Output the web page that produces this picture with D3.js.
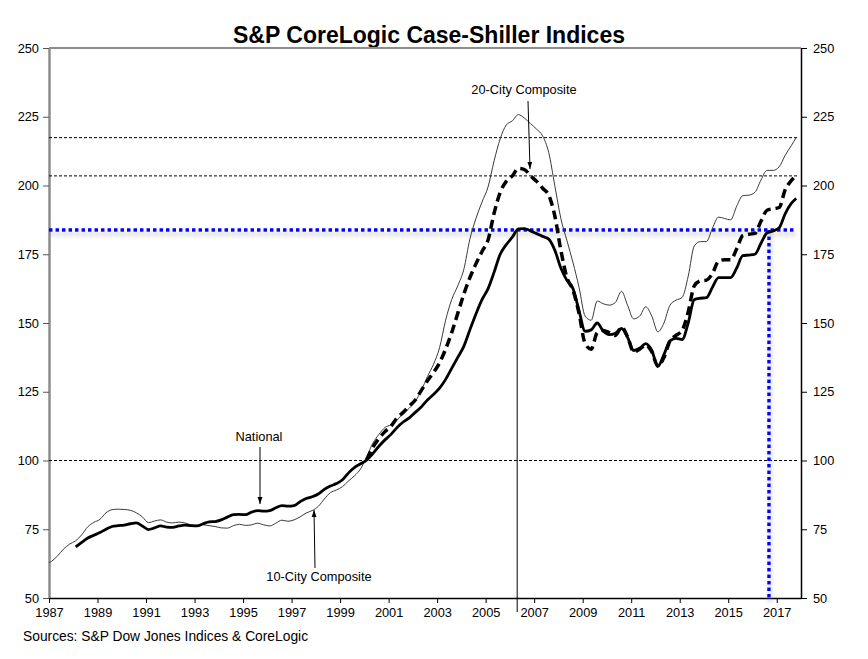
<!DOCTYPE html>
<html>
<head>
<meta charset="utf-8">
<script src="https://cdn.jsdelivr.net/npm/d3@7"></script>
<style>
  body { margin: 0; background: #fff; }
  text { font-family: "Liberation Sans", Arial, sans-serif; }
</style>
</head>
<body>
<div id="chart"></div>
<script>
// quarterly readings (x.1, x.35, x.6, x.85) plus first and last months
var dates = [1987].concat(d3.range(0, 123).map(function (i) { return +(1987.1 + i * 0.25).toFixed(2); })).concat([2017.8]);

var tenCity = [62.8,
    63.3, 65.3, 67.8, 69.6,      // 1987
    70.8, 73.0, 75.9, 77.5,      // 1988
    78.6, 81.0, 82.1, 82.3,      // 1989
    82.2, 81.9, 81.0, 79.5,      // 1990
    77.4, 78.0, 78.4, 77.6,      // 1991
    77.3, 77.6, 77.3, 76.6,      // 1992
    76.4, 76.6, 76.3, 76.0,      // 1993
    75.5, 75.4, 76.3, 76.8,      // 1994
    76.4, 76.6, 77.2, 76.6,      // 1995
    76.2, 77.2, 78.3, 77.9,      // 1996
    78.4, 79.5, 80.9, 81.8,      // 1997
    83.3, 86.0, 88.3, 89.3,      // 1998
    90.5, 92.6, 94.5, 97.0,      // 1999
    101.5, 106.3, 109.5, 112.0,  // 2000
    113.0, 114.8, 117.0, 119.0,  // 2001
    121.5, 125.5, 130.5, 135.0,  // 2002
    141.0, 151.0, 158.5, 163.5,  // 2003
    169.5, 180.5, 188.0, 194.0,  // 2004
    199.5, 209.0, 217.0, 222.0,  // 2005
    223.5, 225.8, 224.5, 222.5,  // 2006
    220.5, 218.0, 212.0, 200.0,  // 2007
    188.0, 180.0, 172.0, 163.0,  // 2008
    152.5, 151.0, 158.0, 157.0,  // 2009
    156.5, 157.5, 161.5, 156.5,  // 2010
    151.5, 152.5, 155.9, 152.5,  // 2011
    146.8, 150.0, 156.5, 158.3,  // 2012
    159.3, 167.0, 178.0, 179.6,  // 2013
    179.6, 184.5, 188.5, 188.0,  // 2014
    187.5, 192.5, 196.3, 196.5,  // 2015
    197.5, 202.0, 205.5, 205.5,  // 2016
    206.8, 211.0, 214.5, 217.4]; // 2017

var twentyCity = Array(53).fill(null).concat([
    100.3, 104.8, 108.0, 110.5,  // 2000
    112.5, 115.5, 117.5, 119.8,  // 2001
    122.0, 125.5, 129.0, 132.0,  // 2002
    135.5, 140.5, 146.5, 153.5,  // 2003
    160.5, 166.5, 171.5, 176.0,  // 2004
    180.2, 190.0, 197.5, 201.5,  // 2005
    203.5, 206.2, 205.8, 203.5,  // 2006
    201.5, 199.0, 196.5, 189.0,  // 2007
    176.5, 166.5, 162.0, 153.5,  // 2008
    142.5, 140.5, 146.5, 147.3,  // 2009
    146.5, 145.5, 148.5, 145.0,  // 2010
    139.5, 140.5, 142.0, 139.5,  // 2011
    134.3, 137.5, 143.5, 145.5,  // 2012
    147.3, 154.0, 163.5, 165.3,  // 2013
    165.6, 168.0, 172.5, 173.0,  // 2014
    173.0, 177.0, 181.8, 182.3,  // 2015
    182.6, 187.0, 191.0, 191.5,  // 2016
    192.0, 198.5, 201.8, 203.5]); // 2017

var national = Array(5).fill(null).concat([
    68.6, 70.2, 71.8, 72.8,      // 1988
    73.8, 75.0, 76.0, 76.3,      // 1989
    76.5, 77.0, 77.3, 76.2,      // 1990
    74.9, 75.5, 76.2, 75.8,      // 1991
    75.7, 76.2, 76.5, 76.3,      // 1992
    76.2, 77.0, 77.7, 77.8,      // 1993
    78.4, 79.4, 80.3, 80.4,      // 1994
    80.3, 81.2, 81.8, 81.6,      // 1995
    81.8, 82.8, 83.6, 83.4,      // 1996
    83.6, 85.0, 86.2, 86.8,      // 1997
    87.8, 89.5, 90.7, 91.6,      // 1998
    93.0, 95.5, 97.5, 98.8,      // 1999
    100.2, 102.5, 105.2, 107.5,  // 2000
    109.5, 112.0, 114.0, 115.5,  // 2001
    117.5, 119.5, 122.0, 124.0,  // 2002
    126.3, 129.5, 133.5, 137.5,  // 2003
    141.5, 147.5, 153.3, 158.5,  // 2004
    162.5, 168.5, 175.0, 178.5,  // 2005
    181.2, 184.2, 184.3, 183.5,  // 2006
    182.5, 181.5, 180.5, 176.5,  // 2007
    170.0, 165.5, 162.5, 154.5,  // 2008
    147.0, 147.5, 150.0, 147.0,  // 2009
    145.8, 146.3, 148.0, 144.8,  // 2010
    140.0, 140.8, 142.5, 140.0,  // 2011
    134.2, 138.5, 143.5, 144.4,  // 2012
    144.0, 150.0, 158.5, 159.0,  // 2013
    159.2, 163.0, 166.5, 166.5,  // 2014
    166.5, 170.0, 174.5, 174.7,  // 2015
    175.0, 179.0, 182.8, 183.5,  // 2016
    184.6, 189.8, 193.5, 195.3]); // 2017

var yearTicks = d3.range(1987, 2018, 2);
var valueTicks = [50, 75, 100, 125, 150, 175, 200, 225, 250];
var refLevels = [tenCity[tenCity.length - 1], twentyCity[twentyCity.length - 1], 100];
var peakLevel = 183.8;
var peakYear = 2006.3;
var recoveryYear = 2016.68;

(function () {
    var width = 868, height = 659;
    var plotLeft = 49, plotRight = 801, plotTop = 48, plotBottom = 598;

    var svg = d3.select("#chart").append("svg")
        .attr("width", width)
        .attr("height", height);

    var defs = svg.append("defs");
    var shadow = defs.append("filter").attr("id", "shadow")
        .attr("x", "-5%").attr("y", "-5%").attr("width", "110%").attr("height", "110%");
    shadow.append("feDropShadow")
        .attr("dx", 1).attr("dy", 4).attr("stdDeviation", 2)
        .attr("flood-color", "#888").attr("flood-opacity", 0.55);

    defs.append("marker").attr("id", "arrow")
        .attr("viewBox", "0 0 10 10").attr("refX", 10).attr("refY", 5)
        .attr("markerWidth", 7).attr("markerHeight", 7).attr("orient", "auto")
        .attr("markerUnits", "userSpaceOnUse")
        .append("path").attr("d", "M0,1.5 L10,5 L0,8.5 Z").attr("fill", "#000");

    var x = d3.scaleLinear().domain([1987, 2018]).range([plotLeft, plotRight]);
    var y = d3.scaleLinear().domain([50, 250]).range([plotBottom, plotTop]);

    // title
    svg.append("text")
        .attr("x", 429).attr("y", 43)
        .attr("text-anchor", "middle")
        .attr("font-size", 23).attr("font-weight", "bold")
        .text("S&P CoreLogic Case-Shiller Indices");

    // grey top edge of the plot area
    svg.append("line").attr("x1", plotLeft).attr("x2", plotRight).attr("y1", plotTop).attr("y2", plotTop)
        .attr("stroke", "#8c8c8c").attr("stroke-width", 2);

    // axes
    var leftAxis = svg.append("g").attr("transform", "translate(" + plotLeft + ",0)")
        .call(d3.axisLeft(y).tickValues(valueTicks).tickSize(6).tickSizeOuter(0).tickPadding(4).tickFormat(d3.format("d")));
    leftAxis.select(".domain").attr("stroke", "#8c8c8c").attr("stroke-width", 2.5);
    leftAxis.selectAll(".tick line").attr("stroke", "#555");

    var rightAxis = svg.append("g").attr("transform", "translate(" + plotRight + ",0)")
        .call(d3.axisRight(y).tickValues(valueTicks).tickSize(6).tickSizeOuter(0).tickPadding(6).tickFormat(d3.format("d")));
    rightAxis.select(".domain").attr("stroke", "#000").attr("stroke-width", 1.5);

    var bottomAxis = svg.append("g").attr("transform", "translate(0," + plotBottom + ")")
        .call(d3.axisBottom(x).tickValues(yearTicks).tickSize(5).tickSizeOuter(0).tickPadding(5).tickFormat(d3.format("d")));
    bottomAxis.select(".domain").attr("stroke", "#000").attr("stroke-width", 1.5);

    svg.selectAll(".tick text").attr("font-size", 12.8).attr("fill", "#000")
        .attr("font-family", "'Liberation Sans', Arial, sans-serif");

    // reference levels
    svg.selectAll(".ref").data(refLevels).enter().append("line")
        .attr("class", "ref")
        .attr("x1", plotLeft).attr("x2", plotRight - 3)
        .attr("y1", function (d) { return y(d); }).attr("y2", function (d) { return y(d); })
        .attr("stroke", "#000").attr("stroke-width", 1).attr("stroke-dasharray", "3,2");

    // national peak and recovery markers
    svg.append("line")
        .attr("x1", x(peakYear)).attr("x2", x(peakYear))
        .attr("y1", y(peakLevel)).attr("y2", plotBottom + 14)
        .attr("stroke", "#000").attr("stroke-width", 1);

    var blue = svg.append("g").attr("filter", "url(#shadow)");
    blue.append("line")
        .attr("x1", plotLeft).attr("x2", x(2017.8))
        .attr("y1", y(peakLevel)).attr("y2", y(peakLevel))
        .attr("stroke", "#0000ff").attr("stroke-width", 3.5).attr("stroke-dasharray", "3.5,3");
    blue.append("line")
        .attr("x1", x(recoveryYear)).attr("x2", x(recoveryYear))
        .attr("y1", y(peakLevel)).attr("y2", plotBottom)
        .attr("stroke", "#0000ff").attr("stroke-width", 3.5).attr("stroke-dasharray", "3.5,3");

    // series
    function seriesLine(values) {
        return d3.line()
            .defined(function (d) { return d != null; })
            .x(function (d, i) { return x(dates[i]); })
            .y(function (d) { return y(d); })
            .curve(d3.curveMonotoneX)(values);
    }

    svg.append("path").attr("d", seriesLine(tenCity))
        .attr("fill", "none").attr("stroke", "#3a3a3a").attr("stroke-width", 1);
    svg.append("path").attr("d", seriesLine(twentyCity))
        .attr("fill", "none").attr("stroke", "#000").attr("stroke-width", 3.5)
        .attr("stroke-dasharray", "9,5");
    svg.append("path").attr("d", seriesLine(national))
        .attr("fill", "none").attr("stroke", "#000").attr("stroke-width", 2.8)
        .attr("stroke-linejoin", "round");

    // labels and arrows
    function note(text, tx, ty, x1, y1, x2, y2) {
        svg.append("text").attr("x", tx).attr("y", ty).attr("text-anchor", "middle")
            .attr("font-size", 12.8).text(text);
        svg.append("line").attr("x1", x1).attr("y1", y1).attr("x2", x2).attr("y2", y2)
            .attr("stroke", "#000").attr("stroke-width", 1).attr("marker-end", "url(#arrow)");
    }
    note("National", 259, 441, 260, 447, 260, 504);
    note("10-City Composite", 319, 581, 315, 568, 314, 510);
    note("20-City Composite", 524, 94, 528, 101, 530, 169);

    svg.append("text").attr("x", 23).attr("y", 641)
        .attr("font-size", 13.8).text("Sources:  S&P Dow Jones Indices & CoreLogic");
})();
</script>
</body>
</html>
